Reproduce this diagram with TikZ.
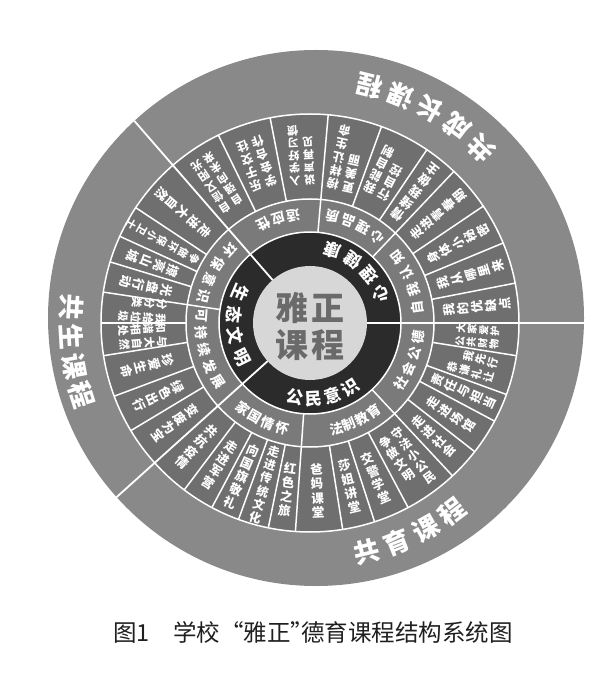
\documentclass[tikz,border=0pt]{standalone}
\usepackage{fontspec}
\setmainfont{Noto Sans CJK SC}
\XeTeXlinebreaklocale "zh"
\XeTeXlinebreakskip=0pt plus 1pt
\definecolor{outerring}{HTML}{898989}
\definecolor{leafring}{HTML}{6F6F6F}
\definecolor{subring}{HTML}{7A7A7A}
\definecolor{corering}{HTML}{2B2B2B}
\definecolor{hubfill}{HTML}{D7D7D7}
\definecolor{hubtext}{HTML}{6A6A6A}
% one column of characters, read from the centre outwards
\newcommand{\colstack}[2][t]{\parbox[#1]{1.15em}{\centering\baselineskip=1.14em #2}}
\begin{document}
\begin{tikzpicture}[x=1pt, y=1pt,
  divider/.style={white, line width=1.5pt},
  outertext/.style={text=white, inner sep=0pt, font=\bfseries\fontsize{26}{26}\selectfont},
  coretext/.style={text=white, inner sep=0pt, font=\bfseries\fontsize{17}{17}\selectfont},
  subtext/.style={text=white, inner sep=0pt, font=\bfseries\fontsize{13.5}{13.5}\selectfont},
  leaf/.style={text=white, inner sep=0pt, font=\bfseries\fontsize{#1}{#1}\selectfont}]
\useasboundingbox (-310,-359) rectangle (290,323);
% Rings
\fill[outerring] (6,5) circle (268);
\fill[leafring] (0,0) circle (209);
\fill[subring] (0,0) circle (124);
\fill[corering] (0,0) circle (91);
\fill[hubfill] (0,0) circle (57);
\foreach \r in {91,124,209}
  \draw[divider] (0,0) circle (\r);
% Sector lines
\begin{scope}
  \clip (6,5) circle (268);
  \foreach \a in {0,131,222}
    \draw[divider, line width=1.8pt] (\a:57) -- (\a:300);
\end{scope}
\foreach \a in {46.5,85,171.5,266,313}
  \draw[divider] (\a:91) -- (\a:124);
\foreach \a in {11,22.5,34,46.5,56,70,85,101,116,146.5,155.5,163,171.5,180,189,200.5,211,233,242,250,258.5,266,279,288,298,313,322,332,340,351}
  \draw[divider] (\a:124) -- (\a:209);

% Hub
\node[text=hubtext, align=center, font=\bfseries\fontsize{33}{37}\selectfont] (hub) at (0,-3) {雅\hspace{3pt}正\\课\hspace{3pt}程};

% Core ring
\foreach \a/\s/\w [count=\n] in {22/17/{心,理,健,康}, 157/16.5/{生,态,文,明}, 258.5/14.5/{公,民,意,识}}
  \foreach \ch [count=\k from 0] in \w
    \node[coretext, rotate=\a+\s*\k+90] (core\n-\k) at ({\a+\s*\k}:76) {\ch};

% Sub ring
\foreach \a/\s/\w [count=\n] in {8/9.7/{自,我,认,知}, 52/8.7/{心,理,品,质}, 99/8/{适,应,性},
    137.5/9.5/{环,保,意,识}, 176/9.2/{可,持,续,发,展},
    232/7.7/{家,国,情,怀}, 284/7.2/{法,制,教,育}, 326.6/8.6/{社,会,公,德}}
  \foreach \ch [count=\k from 0] in \w
    \node[subtext, rotate=\a+\s*\k+90] (sub\n-\k) at ({\a+\s*\k}:109) {\ch};

% Outer ring
\foreach \a/\s/\r/\w [count=\n] in {45.5/7.6/245/{共,成,长,课,程}, 176.3/7.07/239/{共,生,课,程}, 284/7.67/236/{共,育,课,程}}
  \foreach \ch [count=\k from 0] in \w
    \node[outertext, rotate=\a+\s*\k+90] (outer\n-\k) at ({\a+\s*\k}:\r) {\ch};

% Leaf items
\foreach \a/\f/\t [count=\n] in {
  5.5/12.5/{\colstack{我的优缺点}},
  16.75/12.5/{\colstack{我从哪里来}},
  28.25/12.5/{\colstack{身体小秘密}},
  40.25/12.5/{\colstack{走进青春期}},
  51.25/12.5/{\colstack{情绪我做主}},
  63/12/{\colstack{行自控}\hspace{2pt}\colstack{我能自制}},
  77.5/12/{\colstack{更美丽}\hspace{2pt}\colstack{榜样让生命}},
  93/11/{\colstack{说声再见}\hspace{2pt}\colstack{入学好习惯}},
  108.5/12/{\colstack{学会合作}\hspace{2pt}\colstack{乐于交往}},
  123.5/11/{\colstack{自强向未来}\hspace{2pt}\colstack{自信又阳光}},
  139/12.5/{\colstack{走进大自然}},
  151/10.5/{\colstack{争做环保小卫士}},
  159.25/12.5/{\colstack{擦亮山城}},
  167.25/12.5/{\colstack{光盘行动}},
  175.75/11/{\colstack{分分类}\hspace{2pt}\colstack{我给垃圾}},
  184.5/11/{\colstack{和谐相处}\hspace{2pt}\colstack{与大自然}},
  194.75/12.5/{\colstack{珍爱生命}},
  205.75/12.5/{\colstack{绿色出行}},
  216.5/12.5/{\colstack{变废为宝}},
  227.5/12.5/{\colstack{共抗疫情}},
  237.5/12.5/{\colstack{走进军营}},
  246/12.5/{\colstack{向国旗敬礼}},
  254.25/12/{\colstack{走进传统文化}},
  262.25/12.5/{\colstack{红色之旅}},
  272.5/12.5/{\colstack{爸妈课堂}},
  283.5/12.5/{\colstack{莎姐讲堂}},
  293/12.5/{\colstack{交警学堂}},
  305.5/12/{\colstack{争做文明}\hspace{2pt}\colstack{守法小公民}},
  317.5/12.5/{\colstack{走进社会}},
  327/12.5/{\colstack{走进场馆}},
  336/12.5/{\colstack{责任与担当}},
  345.5/11/{\colstack[b]{恭谦礼让}\hspace{2pt}\colstack[b]{我先行}},
  355.5/10/{\colstack[b]{公共财物}\hspace{2pt}\colstack[b]{大家爱护}}}
  \node[leaf=\f, rotate=\a+90] (leaf\n) at (\a:168) {\t};

% Caption
\node[anchor=west, inner sep=0pt, text=black!88, font=\fontsize{23.5}{24}\selectfont] (caption) at (-197,-309) {图1\hspace{1em}学校“雅正\makebox[0.45em][l]{”}德育课程结构系统图};
\end{tikzpicture}
\end{document}
